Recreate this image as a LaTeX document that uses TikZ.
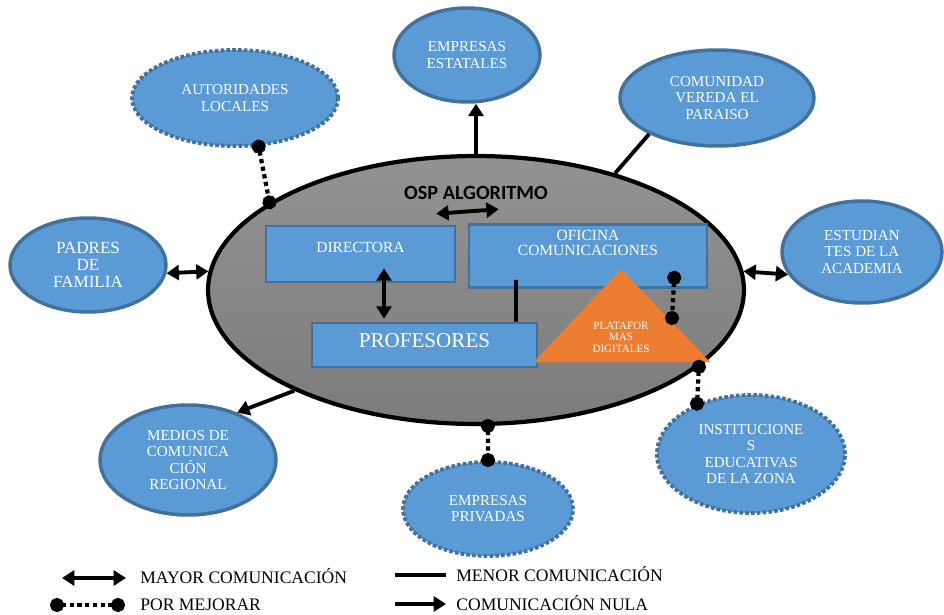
\documentclass[tikz,border=0pt]{standalone}
\usepackage{fontspec}
\setmainfont{Liberation Serif}
\newfontfamily\calibri{Carlito}
\usetikzlibrary{shapes.geometric,arrows.meta}

\definecolor{azul}{RGB}{91,155,213}
\definecolor{azulborde}{RGB}{65,113,156}
\definecolor{naranja}{RGB}{237,125,49}
\definecolor{grisclaro}{RGB}{146,146,146}
\definecolor{grisoscuro}{RGB}{124,124,124}

\begin{document}
\begin{tikzpicture}[x=0.02cm, y=-0.02cm,
     actor/.style={ellipse, fill=azul, draw=azulborde, line width=2pt, inner sep=0pt, text=white, align=center, font=\fontsize{8.6}{9.2}\selectfont},
     actor debil/.style={actor, dash pattern=on 2pt off 1.3pt, line width=2.2pt},
     caja/.style={rectangle, fill=azul, draw=azulborde, line width=1.5pt, text=white, align=center, font=\fontsize{8.8}{8.6}\selectfont},
     mayor/.style={line width=2.2pt, {Triangle[length=7pt,width=8.5pt]}-{Triangle[length=7pt,width=8.5pt]}},
     menor/.style={line width=2.2pt},
     nula/.style={line width=2.2pt, -{Triangle[length=7pt,width=8.5pt]}},
     mejorar/.style={line width=2.4pt, dash pattern=on 2.4pt off 2pt, {Circle[length=8pt]}-{Circle[length=8pt]}, shorten <=-4pt, shorten >=-4pt},
     leyenda/.style={anchor=west, inner sep=0pt, text height=6.6pt, text depth=0pt, font=\fontsize{10}{12}\selectfont}]

   \useasboundingbox (0,0) rectangle (944,615);

   % institucion
   \node[ellipse, draw, line width=2.4pt, top color=grisclaro, bottom color=grisoscuro, minimum width=10.72cm, minimum height=5.36cm] (centro) at (476,290) {};
   \node[font=\calibri\bfseries\fontsize{11.5}{12}\selectfont] (osp) at (476,193) {OSP ALGORITMO};

   \node[caja, minimum width=3.78cm, minimum height=1.12cm, text height=5.8pt, text depth=7.1pt] (directora) at (360.5,254) {DIRECTORA};
   \node[caja, minimum width=4.76cm, minimum height=1.08cm, text depth=14.7pt] (oficina) at (588,256) {OFICINA\\COMUNICACIONES};
   \node[caja, font=\fontsize{12}{14}\selectfont, minimum width=4.5cm, minimum height=0.88cm, text height=7.9pt, text depth=4.6pt] (profesores) at (424.5,345) {PROFESORES};

   \coordinate (plat izq) at (534,362);
   \coordinate (plat der) at (710,362);
   \coordinate (plat sup) at (621,269);
   \coordinate (plat borde) at (672,318);
   \fill[naranja] (plat izq) -- (plat der) -- (plat sup) -- cycle;
   \node[text=white, align=center, font=\fontsize{6.3}{6.6}\selectfont] (plataformas) at (621,337) {PLATAFOR\\MAS\\DIGITALES};

   \draw[mayor] ([shift={(-20,-11)}]directora.north east) -- ([shift={(31,-14)}]oficina.north west);
   \draw[mayor] ([shift={(23.5,-15)}]directora.south) -- ([shift={(-40.5,-3)}]profesores.north);
   \draw[menor] ([shift={(-72,-9)}]oficina.south) -- ([shift={(91.5,0)}]profesores.north);
   \draw[mejorar] ([shift={(-34,-11)}]oficina.south east) -- (plat borde);

   % actores externos
   \node[actor debil, minimum width=4.12cm, minimum height=1.92cm] (autoridades) at (235,98) {AUTORIDADES\\LOCALES};
   \node[actor, minimum width=2.92cm, minimum height=1.88cm] (estatales) at (467,55) {EMPRESAS\\ESTATALES};
   \node[actor, minimum width=3.88cm, minimum height=1.92cm] (comunidad) at (717,98) {COMUNIDAD\\VEREDA EL\\PARAISO};
   \node[actor, minimum width=3.2cm, minimum height=2.04cm] (estudiantes) at (862,252) {ESTUDIAN\\TES DE LA\\ACADEMIA};
   \node[actor, font=\fontsize{9.7}{9.8}\selectfont, minimum width=3.12cm, minimum height=1.88cm] (padres) at (88,265) {PADRES\\DE\\FAMILIA};
   \node[actor, minimum width=3.52cm, minimum height=2.2cm] (medios) at (188,460) {MEDIOS DE\\COMUNICA\\CIÓN\\REGIONAL};
   \node[actor debil, minimum width=3.4cm, minimum height=1.88cm] (privadas) at (488,509) {EMPRESAS\\PRIVADAS};
   \node[actor debil, minimum width=3.76cm, minimum height=2.36cm] (instituciones) at (751,454) {INSTITUCIONE\\S\\EDUCATIVAS\\DE LA ZONA};

   \draw[mejorar] (autoridades.296) -- (centro.157);
   \draw[nula] (centro.north) -- (centro.north |- estatales.south);
   \draw[menor] (centro.40) -- (comunidad.208);
   \draw[mayor] (centro.4) -- (estudiantes.197);
   \draw[mayor] (centro.176) -- (padres.354);
   \draw[nula] (centro.209) -- (medios.44);
   \draw[mejorar] (centro.275) -- (privadas.north);
   \draw[mejorar] (centro.341) -- (instituciones.137);

   % leyenda
   \coordinate (ley1a) at (62,578);
   \coordinate (ley1b) at (126,578);
   \coordinate (ley2a) at (395,575);
   \coordinate (ley2b) at (446,575);
   \coordinate (ley3a) at (57,605);
   \coordinate (ley3b) at (118,605);
   \coordinate (ley4a) at (395,604);
   \coordinate (ley4b) at (446,604);
   \draw[mayor] (ley1a) -- (ley1b);
   \draw[menor] (ley2a) -- (ley2b);
   \draw[mejorar] (ley3a) -- (ley3b);
   \draw[nula] (ley4a) -- (ley4b);
   \node[leyenda] (ley mayor) at (140,578) {MAYOR COMUNICACIÓN};
   \node[leyenda] (ley menor) at (456,576) {MENOR COMUNICACIÓN};
   \node[leyenda] (ley mejorar) at (140,605) {POR MEJORAR};
   \node[leyenda] (ley nula) at (456,605) {COMUNICACIÓN NULA};
\end{tikzpicture}
\end{document}
